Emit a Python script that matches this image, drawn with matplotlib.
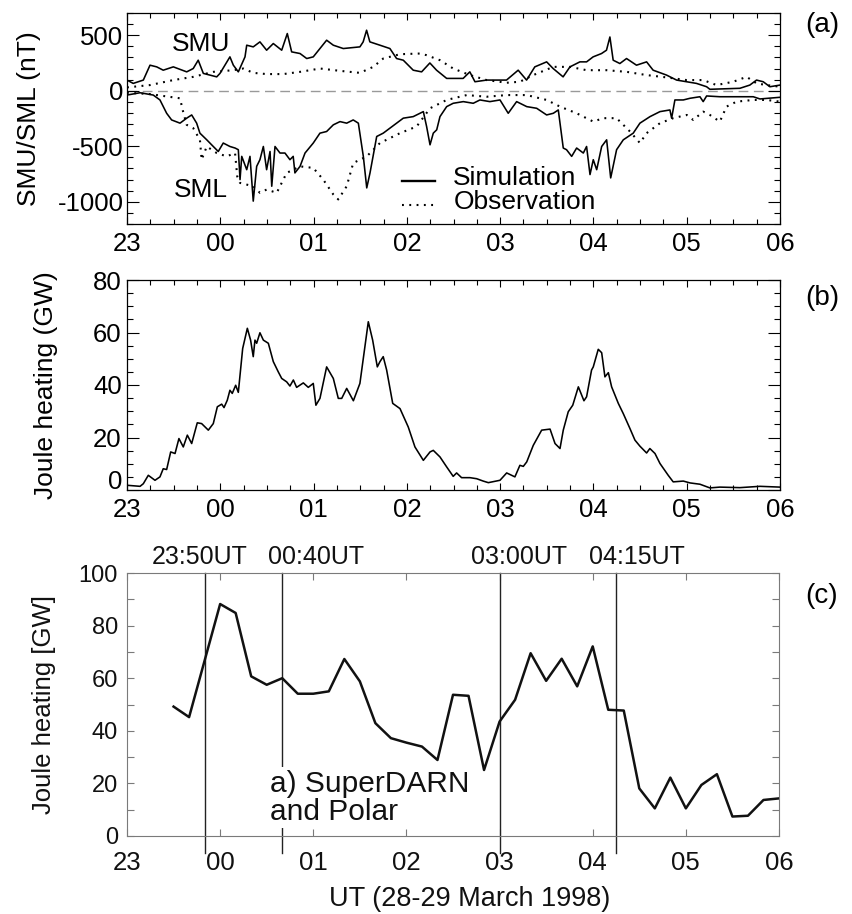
import numpy as np
import matplotlib
matplotlib.use('Agg')
import matplotlib.pyplot as plt
from matplotlib.ticker import MultipleLocator, FixedLocator
from matplotlib.lines import Line2D
from matplotlib.transforms import ScaledTranslation, blended_transform_factory

plt.rcParams['font.family'] = ['Liberation Sans', 'DejaVu Sans']
plt.rcParams['axes.unicode_minus'] = False

# ---------------- data ----------------
hour_ticks = [0, 1, 2, 3, 4, 5, 6, 7]          # hours after 23:00 UT
hour_labels = ['23', '00', '01', '02', '03', '04', '05', '06']

# Panel (a): times in minutes after 23:00 UT, values in nT
smu_sim_t = [0, 4, 10.5, 14.8, 19.1, 23.3, 29.8, 38.4, 42.6, 45.8, 49.1, 57.7, 59.8,
             66.2, 68.4, 71.6, 75.9, 77.0, 81.2, 85.5, 89.8, 94.1, 99.5, 103.1, 105.9,
             111.3, 115.6, 119.8, 128.4, 132.7, 139.1, 149.8, 151.9, 154.1, 156.2,
             162.7, 169.1, 173.4, 177.7, 184.1, 189.5, 194.8, 199.1, 205.6, 216.2,
             220.5, 223.8, 231.3, 244.1, 251.6, 257.0, 262.3, 269.9, 274.1, 280.5,
             284.9, 291.3, 295.6, 299.8, 305.2, 308.4, 310.6, 312.7, 317.0, 321.3,
             327.7, 334.2, 338.4, 347.0, 353.5, 359.9, 366.3, 372.8, 374.9, 394.2,
             400.6, 404.9, 409.2, 413.5, 420]
smu_sim = [96, 66, 96, 230, 215, 185, 215, 170, 200, 275, 156, 125, 156,
           305, 230, 170, 305, 410, 395, 440, 365, 425, 365, 515, 350,
           335, 290, 305, 455, 410, 380, 395, 440, 545, 440,
           410, 380, 290, 275, 185, 170, 250, 185, 111, 111,
           170, 81, 96, 96, 185, 96, 215, 260, 200, 125,
           215, 260, 260, 305, 335, 365, 484, 275, 245, 290,
           230, 260, 185, 141, 96, 81, 66, 36, 13, 22,
           51, 96, 81, 36, 51]

sml_sim_t = [0, 8.4, 16.9, 21.2, 25.5, 28.7, 34.1, 38.4, 41.6, 44.8, 46.9, 51.3, 55.5,
             58.7, 61.9, 66.2, 69.5, 71.6, 72.7, 73.8, 77.0, 79.1, 81.2, 83.4, 85.5,
             87.7, 89.8, 92.0, 93.1, 95.2, 98.4, 101.6, 104.8, 106.9, 108.0, 111.3,
             114.5, 119.8, 124.1, 128.4, 132.7, 137.0, 141.3, 145.5, 148.8, 152.0,
             154.2, 156.3, 160.6, 164.8, 169.1, 173.4, 177.7, 184.1, 190.6, 192.7,
             194.9, 197.0, 199.2, 201.3, 205.6, 209.8, 216.3, 222.7, 227.0, 233.4,
             239.9, 245.2, 250.6, 257.1, 263.5, 269.9, 274.2, 277.4, 280.6, 282.7,
             286.0, 289.2, 293.5, 295.6, 297.8, 299.9, 302.1, 305.3, 308.5, 311.1,
             314.9, 319.2, 325.6, 329.9, 336.4, 342.8, 349.2, 350.3, 352.4, 357.8,
             362.1, 368.5, 370.6, 372.8, 381.3, 402.8, 407.1, 420]
sml_sim = [-39, -18, -39, -83, -203, -263, -292, -247, -218, -292, -382, -442, -502,
           -547, -471, -502, -516, -531, -800, -591, -711, -591, -994, -681, -621,
           -502, -711, -547, -860, -502, -561, -561, -621, -591, -740, -681,
           -561, -471, -382, -367, -307, -278, -292, -263, -292, -591,
           -875, -740, -412, -382, -337, -292, -247, -233, -188, -322,
           -487, -382, -352, -233, -143, -113, -98, -113, -83, -98,
           -83, -203, -98, -143, -158, -218, -203, -173, -516, -531,
           -591, -516, -561, -502, -755, -621, -711, -502, -442, -785,
           -531, -442, -382, -292, -233, -188, -173, -247, -83, -83,
           -68, -54, -98, -47, -54, -54, -74, -59]

smu_obs_t = [0, 14.8, 29.8, 42.6, 55.5, 68.4, 74.8, 81.2, 89.8, 100.5, 111.3, 124.2,
             137.0, 149.8, 158.4, 164.8, 175.6, 188.4, 192.7, 201.3, 209.8, 220.6,
             231.3, 244.2, 252.7, 261.3, 274.2, 284.9, 295.6, 308.5, 321.4, 334.2,
             347.1, 360.0, 370.6, 379.2, 389.9, 398.5, 405.0, 411.4, 420]
smu_obs = [30, 51, 96, 125, 170, 185, 200, 161, 150, 150, 170, 200,
           179, 161, 215, 290, 329, 335, 320, 275, 200, 141,
           96, 72, 81, 141, 215, 215, 185, 185, 170, 141,
           120, 96, 96, 51, 81, 125, 66, 51, 36]

sml_obs_t = [0, 14.8, 23.3, 34.1, 35.8, 38.4, 42.6, 46.9, 48.0, 51.3, 57.7, 64.1, 69.5,
             70.9, 72.7, 81.2, 85.5, 89.8, 96.3, 102.7, 111.3, 119.8, 126.2, 132.7,
             135.9, 141.3, 145.5, 154.2, 162.7, 175.6, 186.3, 194.9, 205.6, 218.5,
             231.3, 244.2, 257.1, 269.9, 278.5, 289.2, 299.9, 306.3, 314.9, 323.5,
             329.9, 334.2, 342.8, 351.3, 360.0, 364.2, 370.6, 374.9, 381.3, 385.6,
             392.1, 402.8, 411.4, 420]
sml_obs = [-18, -30, -47, -68, -173, -307, -337, -442, -621, -502, -561, -591, -561,
           -771, -830, -860, -919, -890, -919, -740, -681, -695, -800, -934,
           -979, -860, -651, -591, -471, -382, -322, -158, -83, -39,
           -54, -39, -39, -83, -143, -203, -278, -247, -247, -367,
           -471, -382, -292, -247, -218, -263, -188, -218, -278, -143,
           -98, -83, -83, -98]

# Panel (b): simulated Joule heating (GW)
jh_sim_t = [0, 8.4, 10.5, 13.7, 18.0, 21.2, 23.3, 25.5, 28.1, 30.9, 33.4, 36.2, 38.8,
            41.6, 45.2, 48.0, 52.3, 55.5, 58.1, 60.9, 62.4, 64.5, 66.2, 67.7, 69.9,
            71.6, 74.4, 77.4, 79.5, 81.2, 82.3, 83.4, 85.5, 87.7, 90.9, 94.1, 97.3,
            99.5, 102.7, 104.8, 107.0, 109.1, 113.4, 116.6, 119.8, 121.5, 124.1,
            128.4, 132.7, 135.9, 138.1, 141.3, 145.6, 149.8, 155.2, 158.0, 161.0,
            162.7, 164.8, 167.0, 170.9, 175.6, 180.9, 185.2, 190.6, 194.9, 197.0,
            201.3, 205.6, 209.8, 212.0, 215.2, 220.6, 224.9, 229.1, 232.4, 239.9,
            244.2, 249.5, 252.7, 254.9, 257.1, 261.3, 266.7, 272.1, 275.3, 278.5,
            280.6, 283.8, 286.7, 290.3, 293.9, 295.6, 298.8, 299.9, 303.1, 305.3,
            307.4, 309.6, 311.7, 316.0, 319.2, 323.5, 326.7, 329.9, 334.2, 336.3,
            339.6, 342.8, 348.1, 351.3, 357.8, 362.1, 368.5, 374.9, 381.3, 394.2,
            407.1, 420]
jh_sim = [1.8, 1.4, 2.4, 5.6, 3.7, 5.0, 8.1, 7.8, 14.5, 13.9, 19.6, 16.4, 20.9,
          17.7, 25.6, 25.3, 22.8, 25.3, 31.7, 32.7, 31.4, 34.2, 38.0, 36.8, 39.9,
          37.2, 53.9, 61.6, 57.1, 50.8, 57.1, 55.9, 59.9, 57.1, 55.9, 48.9, 45.0,
          42.5, 41.2, 39.6, 41.9, 39.1, 40.8, 39.1, 40.6, 32.3, 34.9,
          46.9, 42.5, 34.9, 34.9, 38.7, 34.0, 40.6, 64.1, 57.1, 46.9,
          48.9, 50.8, 45.7, 33.0, 31.0, 24.0, 16.4, 11.3, 14.5, 15.1,
          12.6, 8.8, 5.2, 6.5, 4.7, 4.7, 4.3, 3.4, 2.8, 3.7,
          6.5, 5.0, 9.4, 9.0, 10.7, 17.0, 22.8, 23.2, 17.7, 15.8,
          22.8, 29.8, 32.3, 39.3, 34.0, 35.5, 45.7, 46.9, 53.6, 52.3,
          43.1, 44.7, 39.3, 33.0, 29.1, 23.4, 19.0, 16.7, 14.1, 15.8,
          13.9, 10.1, 5.6, 3.1, 3.4, 2.7, 2.2, 0.8, 1.1, 0.9,
          1.4, 1.1]

# Panel (c): SuperDARN and Polar Joule heating (GW)
jh_obs_t = [30, 40, 60, 70, 80, 90, 100, 110, 120, 130, 140, 150, 160, 170, 180, 190,
            200, 210, 220, 230, 240, 250, 260, 270, 280, 290, 300, 310, 320, 330, 340,
            350, 360, 370, 380, 390, 400, 410, 420]
jh_obs = [49.2, 45.2, 88.2, 84.8, 60.7, 57.5, 60.0, 54.1, 54.1, 55.0, 67.3, 58.8, 42.9,
          37.2, 35.5, 34.0, 28.9, 53.7, 53.3, 25.1, 43.5, 51.8, 69.5, 59.0, 67.4, 56.9,
          72.1, 48.0, 47.7, 18.1, 10.5, 22.2, 10.5, 19.4, 23.5, 7.4, 7.7, 13.7, 14.3]

event_times = [50, 100, 240, 315]     # 23:50, 00:40, 03:00, 04:15 (min after 23 UT)
event_labels = ['23:50UT', '00:40UT', '03:00UT', '04:15UT']

# ---------------- figure ----------------
W, H = 853, 914
fig = plt.figure(figsize=(W / 100, H / 100), dpi=100)

def rect(l, t, r, b):
    return [l / W, 1 - b / H, (r - l) / W, (b - t) / H]

ax_a = fig.add_axes(rect(127, 13, 780, 224))
ax_b = fig.add_axes(rect(127, 280, 780, 490))
ax_c = fig.add_axes(rect(127, 573, 779, 836))

def h(t):
    return np.asarray(t, dtype=float) / 60.0

TICK_FS = 18.5
LW = 1.15

def style_ab(ax, ymajor, yminor):
    ax.set_xlim(0, 7)
    ax.xaxis.set_major_locator(FixedLocator(hour_ticks))
    ax.xaxis.set_minor_locator(MultipleLocator(0.25))
    ax.set_xticklabels(hour_labels)
    ax.yaxis.set_major_locator(MultipleLocator(ymajor))
    ax.yaxis.set_minor_locator(MultipleLocator(yminor))
    ax.tick_params(axis='x', which='major', direction='in', top=True, bottom=True,
                   length=5, width=0.8, labelsize=TICK_FS, pad=6)
    ax.tick_params(axis='x', which='minor', direction='in', top=True, bottom=True,
                   length=3.5, width=0.8)
    ax.tick_params(axis='y', which='major', direction='in', left=True, right=True,
                   length=8.5, width=0.8, labelsize=TICK_FS)
    ax.tick_params(axis='y', which='minor', direction='in', left=True, right=True,
                   length=4.3, width=0.8)
    for s in ax.spines.values():
        s.set_linewidth(0.9)
        s.set_color('black')

# ---- panel (a)
ax_a.plot(h(smu_sim_t), smu_sim, color='black', lw=LW)
ax_a.plot(h(sml_sim_t), sml_sim, color='black', lw=LW)
ax_a.plot(h(smu_obs_t), smu_obs, color='black', lw=1.5, dashes=(0.9, 2.6))
ax_a.plot(h(sml_obs_t), sml_obs, color='black', lw=1.5, dashes=(0.9, 2.6))
ax_a.axhline(0, color='#999999', lw=1.0, dashes=(7, 4), zorder=1)
ax_a.set_ylim(-1200, 700)
style_ab(ax_a, 500, 100)
ax_a.tick_params(axis='y', which='major', pad=2.5)
ax_a.set_yticks([500, 0, -500, -1000])
ax_a.set_yticklabels(['500', '0', '-500', '-1000'])
ax_a.set_ylabel('SMU/SML (nT)', fontsize=19)
ax_a.yaxis.label.set_verticalalignment('center')
ax_a.yaxis.set_label_coords(-0.150, 0.5)
ax_a.text(0.113, 0.855, 'SMU', transform=ax_a.transAxes, fontsize=19,
          ha='center', va='center')
ax_a.text(0.1126, 0.159, 'SML', transform=ax_a.transAxes, fontsize=19,
          ha='center', va='center')
# legend
ax_a.add_line(Line2D([0.4207, 0.4717], [0.205, 0.205], transform=ax_a.transAxes,
                     color='black', lw=1.7))
ax_a.add_line(Line2D([0.4207, 0.4717], [0.090, 0.090], transform=ax_a.transAxes,
                     color='black', lw=1.5, dashes=(0.9, 2.6)))
ax_a.text(0.4997, 0.218, 'Simulation', transform=ax_a.transAxes, fontsize=19,
          ha='left', va='center')
ax_a.text(0.4997, 0.102, 'Observation', transform=ax_a.transAxes, fontsize=19,
          ha='left', va='center')

# ---- panel (b)
ax_b.plot(h(jh_sim_t), jh_sim, color='black', lw=LW)
ax_b.set_ylim(0, 80)
style_ab(ax_b, 20, 5)
ax_b.tick_params(axis='y', which='major', pad=3.8)
ax_b.set_yticks([0, 20, 40, 60, 80])
ax_b.set_yticklabels(['', '20', '40', '60', '80'])
trans0 = blended_transform_factory(ax_b.transAxes, ax_b.transData) + \
    ScaledTranslation(-5 / 100, 10.7 / 100, fig.dpi_scale_trans)
ax_b.text(0, 0, '0', transform=trans0, fontsize=TICK_FS, ha='right',
          va='center_baseline')
ax_b.set_ylabel('Joule heating (GW)', fontsize=19)
ax_b.yaxis.label.set_verticalalignment('center')
ax_b.yaxis.set_label_coords(-0.124, 0.5)

# ---- panel (c)
GRAY = '#7a7a7a'
ax_c.plot(h(jh_obs_t), jh_obs, color='#111111', lw=1.8, zorder=3)
ax_c.set_xlim(0, 7)
ax_c.set_ylim(0, 100)
ax_c.xaxis.set_major_locator(FixedLocator(hour_ticks))
ax_c.set_xticklabels(hour_labels)
ax_c.yaxis.set_major_locator(MultipleLocator(20))
ax_c.yaxis.set_minor_locator(MultipleLocator(10))
ax_c.tick_params(axis='x', which='major', direction='in', top=True, bottom=True,
                 length=5, width=0.8, color=GRAY, labelsize=18.5, pad=11,
                 labelcolor='#111111')
ax_c.tick_params(axis='y', which='both', direction='in', left=True, right=True,
                 length=5, width=0.8, color=GRAY, labelsize=17, pad=6.5,
                 labelcolor='#111111')
for s in ax_c.spines.values():
    s.set_linewidth(0.8)
    s.set_color(GRAY)
ax_c.set_ylabel('Joule heating [GW]', fontsize=18.5, color='#111111')
ax_c.yaxis.label.set_verticalalignment('center')
ax_c.yaxis.set_label_coords(-0.127, 0.5)
ax_c.set_xlabel('UT (28-29 March 1998)', fontsize=19.5, color='#111111')
ax_c.xaxis.label.set_verticalalignment('center')
ax_c.xaxis.set_label_coords(0.526, -0.2395)

vtrans = blended_transform_factory(ax_c.transData, ax_c.transAxes)
for et in event_times:
    ax_c.add_line(Line2D([et / 60, et / 60], [1.0, -0.065], transform=vtrans,
                         color='#222222', lw=1.0, clip_on=False, zorder=2))
label_x = [0.112, 0.290, 0.602, 0.782]
for lx, lab in zip(label_x, event_labels):
    ax_c.text(lx, 1.061, lab, transform=ax_c.transAxes, fontsize=18,
              ha='center', va='center', color='#111111')
ax_c.text(0.219, 0.146, 'a) SuperDARN\nand Polar', transform=ax_c.transAxes,
          fontsize=21.5, ha='left', va='center', linespacing=1.0, color='#111111',
          zorder=4, bbox=dict(facecolor='white', edgecolor='none', pad=2))

# panel labels
for y, lab in [(25, '(a)'), (298, '(b)'), (596, '(c)')]:
    fig.text(805 / W, 1 - y / H, lab, fontsize=20, ha='left', va='center')

fig.savefig('out.png', dpi=100)
